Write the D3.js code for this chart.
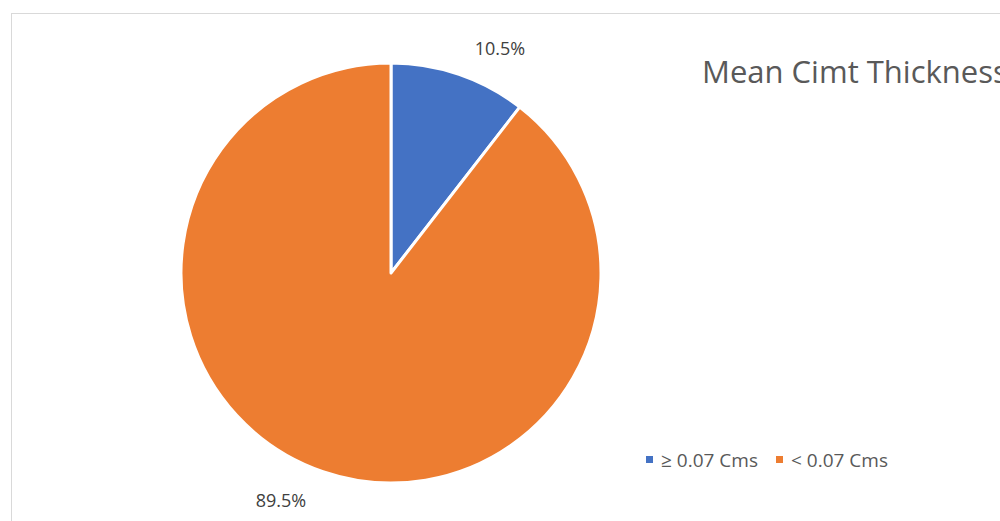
<!DOCTYPE html>
<html>
<head>
<meta charset="utf-8">
<script src="https://cdn.jsdelivr.net/npm/d3@7"></script>
<style>
  html, body { margin: 0; padding: 0; background: #fff; }
  svg { display: block; }
  text { font-family: "Open Sans", "Noto Sans", sans-serif; }
</style>
</head>
<body>
<svg id="chart" width="1000" height="521"></svg>
<script>
// Share of patients by mean CIMT thickness
const categories = ["≥ 0.07 Cms", "< 0.07 Cms"];
const shares = [10.5, 89.5];
const colors = ["#4472C4", "#ED7D31"];
const title = "Mean Cimt Thickness";

const svg = d3.select("#chart");
const W = 1000, H = 521;

// chart area frame
svg.append("rect")
  .attr("x", 11.5).attr("y", 13.5)
  .attr("width", W + 20).attr("height", H + 20)
  .attr("fill", "#fff")
  .attr("stroke", "#d9d9d9").attr("stroke-width", 1);

const cx = 391, cy = 273, r = 210;

const data = categories.map((c, i) => ({ cat: c, value: shares[i], color: colors[i] }));
const pie = d3.pie().value(d => d.value).sort(null);
const arc = d3.arc().innerRadius(0).outerRadius(r);
const arcs = pie(data);

const g = svg.append("g").attr("transform", `translate(${cx},${cy})`);
g.selectAll("path.slice")
  .data(arcs)
  .join("path")
  .attr("class", "slice")
  .attr("d", arc)
  .attr("fill", d => d.data.color)
  .attr("stroke", "#fff")
  .attr("stroke-width", 3)
  .attr("stroke-linejoin", "round");

// outside data labels
const labelPos = [[500, 55], [281, 507]];
svg.selectAll("text.lbl")
  .data(arcs)
  .join("text")
  .attr("class", "lbl")
  .attr("x", (d, i) => labelPos[i][0])
  .attr("y", (d, i) => labelPos[i][1])
  .attr("text-anchor", "middle")
  .attr("font-size", 18)
  .attr("fill", "#404040")
  .text(d => d.data.value.toFixed(1) + "%");

// title
svg.append("text")
  .attr("x", 702).attr("y", 83)
  .attr("font-size", 31)
  .attr("fill", "#595959")
  .text(title);

// legend
const legendItems = [
  { x: 646, cat: categories[0], color: colors[0] },
  { x: 776, cat: categories[1], color: colors[1] }
];
const lg = svg.append("g");
legendItems.forEach(it => {
  lg.append("rect")
    .attr("x", it.x).attr("y", 456)
    .attr("width", 7).attr("height", 7)
    .attr("fill", it.color);
  lg.append("text")
    .attr("x", it.x + 15).attr("y", 467)
    .attr("font-size", 19)
    .attr("fill", "#595959")
    .text(it.cat);
});
</script>
</body>
</html>
